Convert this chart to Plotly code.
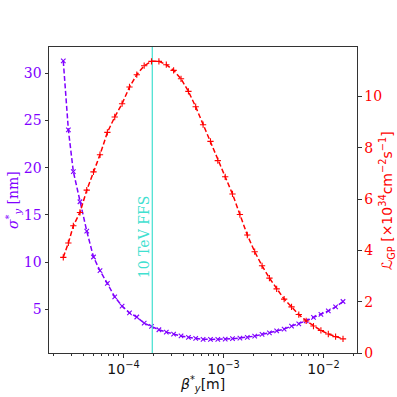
import plotly.graph_objects as go

# beta*_y [m]
beta = [2.50e-5, 2.81e-5, 3.15e-5, 3.67e-5, 4.29e-5, 5.01e-5, 5.82e-5, 6.90e-5, 8.17e-5, 9.68e-5,
        1.148e-4, 1.358e-4, 1.61e-4, 1.905e-4, 2.26e-4, 2.68e-4, 3.17e-4, 3.76e-4, 4.46e-4, 5.27e-4,
        6.25e-4, 7.41e-4, 8.77e-4, 1.04e-3, 1.23e-3, 1.459e-3, 1.73e-3, 2.05e-3, 2.43e-3, 2.88e-3,
        3.40e-3, 4.04e-3, 4.79e-3, 5.66e-3, 6.71e-3, 7.94e-3, 9.42e-3, 1.117e-2, 1.321e-2, 1.567e-2]
# sigma*_y [nm]
sigma = [31.3, 24.0, 19.6, 16.4, 13.3, 10.55, 9.1, 7.75, 6.33, 5.35,
         4.64, 4.2, 3.55, 3.2, 2.85, 2.6, 2.39, 2.2, 2.05, 1.93,
         1.84, 1.83, 1.83, 1.85, 1.9, 1.97, 2.04, 2.18, 2.36, 2.53,
         2.74, 2.92, 3.24, 3.48, 3.80, 4.16, 4.47, 4.85, 5.27, 5.84]
# L_GP [1e34 cm^-2 s^-1]
lumi = [3.73, 4.29, 4.96, 5.48, 6.35, 7.06, 7.73, 8.6, 9.2, 9.72,
        10.37, 10.85, 11.2, 11.37, 11.37, 11.24, 11.02, 10.69, 10.2, 9.6,
        8.9, 8.25, 7.5, 6.87, 6.2, 5.4, 4.6, 3.95, 3.4, 2.92,
        2.5, 2.1, 1.8, 1.5, 1.25, 1.05, 0.88, 0.74, 0.64, 0.55]

beta_ffs = 1.94e-4
ffs_label = "10 TeV FFS"

x_ticks = [1e-4, 1e-3, 1e-2]
x_ticktext = ["10<sup>−4</sup>", "10<sup>−3</sup>", "10<sup>−2</sup>"]
y1_ticks = [5, 10, 15, 20, 25, 30]
y2_ticks = [0, 2, 4, 6, 8, 10]

PURPLE = "#7F00FF"
RED = "#FF0000"
TURQ = "#40E0D0"
AX = "#333333"

minor_vals = [m * 10.0 ** k for k in range(-5, -1) for m in range(2, 10)]

fig = go.Figure()
fig.add_trace(go.Scatter(
    x=beta, y=sigma, mode="lines+markers", yaxis="y",
    line=dict(color=PURPLE, width=1.5, dash="5px,2.5px"),
    marker=dict(symbol="x-thin", size=4.5, line=dict(color=PURPLE, width=1.1), color=PURPLE),
    showlegend=False))
fig.add_trace(go.Scatter(
    x=[beta_ffs, beta_ffs], y=[0.39, 32.78], mode="lines", yaxis="y",
    line=dict(color=TURQ, width=1.2), showlegend=False))
fig.add_trace(go.Scatter(
    x=beta, y=lumi, mode="lines+markers", yaxis="y2",
    line=dict(color=RED, width=1.5, dash="5px,2.5px"),
    marker=dict(symbol="cross-thin", size=4.5, line=dict(color=RED, width=1.1), color=RED),
    showlegend=False))

fig.update_layout(
    width=397, height=397,
    margin=dict(l=49, r=40, t=47, b=44),
    paper_bgcolor="white", plot_bgcolor="white",
    xaxis=dict(type="log", range=[-4.745, -1.665], showgrid=False, zeroline=False,
               showline=True, linecolor=AX, linewidth=1, mirror=True,
               ticks="outside", ticklen=3.5, tickwidth=0.8, tickcolor=AX,
               tickmode="array", tickvals=x_ticks, ticktext=x_ticktext,
               tickfont=dict(family="DejaVu Sans", size=14, color="#111111"),
               minor=dict(ticks="outside", ticklen=2, tickwidth=0.6, tickcolor=AX,
                          tickmode="array", tickvals=minor_vals, showgrid=False)),
    yaxis=dict(range=[0.39, 32.78], showgrid=False, zeroline=False,
               showline=True, linecolor=AX, linewidth=1,
               ticks="outside", ticklen=3.5, tickwidth=0.8, tickcolor=AX,
               tickmode="array", tickvals=y1_ticks,
               tickfont=dict(family="DejaVu Serif", size=14, color=PURPLE)),
    yaxis2=dict(range=[0, 11.93], overlaying="y", side="right", showgrid=False, zeroline=False,
                showline=True, linecolor=AX, linewidth=1,
                ticks="outside", ticklen=3.5, tickwidth=0.8, tickcolor=AX,
                tickmode="array", tickvals=y2_ticks,
                tickfont=dict(family="DejaVu Serif", size=14, color=RED)),
    annotations=[
        dict(text="<i>σ</i><sup>*</sup><sub><i>y</i></sub> [nm]", xref="paper", yref="paper",
             x=-0.117, y=0.5, xanchor="center", yanchor="middle", textangle=-90, showarrow=False,
             font=dict(family="DejaVu Serif", size=14, color=PURPLE)),
        dict(text="ℒ<sub>GP</sub> [×10<sup>34</sup>cm<sup>−2</sup>s<sup>−1</sup>]",
             xref="paper", yref="paper",
             x=1.097, y=0.5, xanchor="center", yanchor="middle", textangle=-90, showarrow=False,
             font=dict(family="DejaVu Sans", size=14, color=RED)),
        dict(text="<i>β</i><sup>*</sup><sub><i>y</i></sub>[m]", xref="paper", yref="paper",
             x=0.497, y=-0.1, xanchor="center", yanchor="middle", showarrow=False,
             font=dict(family="DejaVu Sans", size=14, color="#111111")),
        dict(text=ffs_label, xref="x", yref="y", x=-3.80, y=12.6,
             xanchor="center", yanchor="middle", textangle=-90, showarrow=False,
             font=dict(family="DejaVu Serif", size=14, color=TURQ)),
    ],
)

fig.write_html("out.html", config={"displayModeBar": False},
               post_script="document.body.style.margin='0px';document.body.style.overflow='hidden';")
